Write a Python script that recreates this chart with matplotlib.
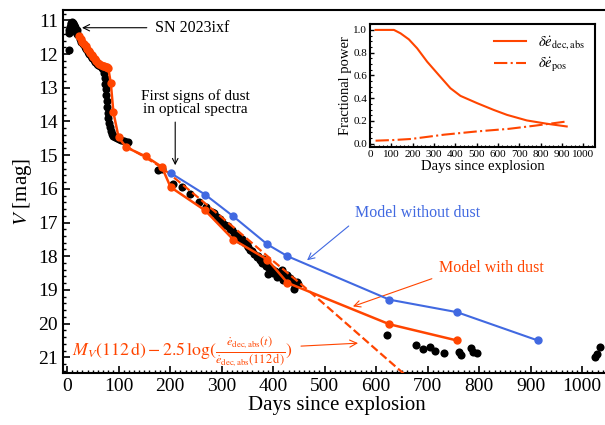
import matplotlib
matplotlib.use("Agg")
import matplotlib.pyplot as plt
from matplotlib.ticker import MultipleLocator

plt.rcParams['font.family'] = ['Liberation Serif', 'DejaVu Serif']
plt.rcParams['mathtext.fontset'] = 'stix'

# ---------------- data ----------------
obs_days = [3, 3.5, 4.5, 6, 7, 8, 9, 10, 11, 12, 13, 14, 15, 16, 17, 18, 19, 20, 22,
            25, 28, 31, 34, 37, 40, 43, 46, 49, 52, 55, 58, 61, 64, 67, 70,
            72, 73, 74, 75, 76, 77, 78, 79, 80, 82, 84, 86, 88, 90, 93, 97, 101, 105,
            110, 115, 119,
            177, 185, 206, 223, 239, 257, 270, 281, 286, 291, 296, 301, 307, 312, 316,
            320, 325, 329, 333, 336, 340, 345, 349, 352, 355, 359, 363, 368, 371, 375,
            378, 380, 384, 387, 391, 391, 394, 397, 399, 401, 404, 407, 410, 412, 414,
            417, 419, 420, 423, 425, 427, 430, 433, 436, 439, 441, 443, 446, 449,
            622, 678, 692, 705, 714, 732, 761, 764, 784, 789, 795, 1025, 1028, 1034]
obs_mag = [11.88, 11.38, 11.3, 11.2, 11.12, 11.08, 11.06, 11.07, 11.08, 11.1, 11.13, 11.17,
           11.2, 11.25, 11.3, 11.35, 11.28, 11.4, 11.45,
           11.55, 11.63, 11.71, 11.79, 11.86, 11.93, 12.0, 12.06, 12.12, 12.18, 12.24,
           12.3, 12.34, 12.37, 12.41, 12.45,
           12.55, 12.7, 12.88, 13.05, 13.22, 13.4, 13.58, 13.75, 13.9, 14.05, 14.18,
           14.28, 14.36, 14.42, 14.47, 14.5, 14.52, 14.55, 14.58, 14.62, 14.6,
           15.45, 15.42, 15.85, 15.96, 16.14, 16.39, 16.55, 16.69, 16.72, 16.84, 16.9,
           16.98, 17.08, 17.1, 17.2, 17.23, 17.3, 17.38, 17.42, 17.53, 17.5, 17.62,
           17.68, 17.72, 17.83, 17.85, 17.92, 18.02, 18.0, 18.12, 18.2, 18.08, 18.22,
           18.3, 18.32, 18.52, 18.38, 18.37, 18.5, 18.47, 18.45, 18.62, 18.52, 18.6,
           18.48, 18.42, 18.7, 18.62, 18.55, 18.66, 18.57, 18.72, 18.66, 18.7, 18.76,
           18.96, 18.86, 18.78, 18.81,
           20.35, 20.62, 20.74, 20.69, 20.81, 20.86, 20.84, 20.94, 20.71, 20.84, 20.87,
           21.0, 20.9, 20.68]

dust_days = [24, 27, 30, 33, 36, 39, 42, 45, 48, 51, 54, 57, 60, 63, 66, 69, 72, 75, 78,
             80, 85, 90, 100, 115, 153, 184, 201, 268, 323, 389, 428, 626, 757]
dust_mag = [11.47, 11.55, 11.63, 11.7, 11.77, 11.84, 11.9, 11.96, 12.02, 12.08, 12.14,
            12.2, 12.26, 12.3, 12.33, 12.35, 12.37, 12.38, 12.4, 12.42, 12.87, 13.73,
            14.47, 14.77, 15.04, 15.35, 15.95, 16.64, 17.51, 18.1, 18.79, 20.02, 20.5]

nodust_days = [201, 268, 323, 389, 428, 626, 757, 914]
nodust_mag = [15.53, 16.17, 16.82, 17.65, 18.0, 19.29, 19.66, 20.5]

decay_days = [112, 150, 184, 250, 300, 400, 452, 500, 600, 660]
decay_mag = [14.72, 15.05, 15.37, 16.2, 16.84, 18.14, 18.8, 19.43, 20.77, 21.57]

frac_days = [26, 112, 143, 182, 221, 268, 322, 377, 424, 502, 579, 642, 735, 829, 922]
frac_decabs = [1.0, 1.0, 0.97, 0.917, 0.838, 0.72, 0.604, 0.487, 0.42, 0.356, 0.297,
               0.253, 0.204, 0.175, 0.151]
pos_days = [26, 112, 192, 348, 504, 650, 769, 922]
frac_pos = [0.026, 0.032, 0.041, 0.079, 0.108, 0.13, 0.157, 0.195]

ORANGE = '#FF4500'
BLUE = '#4169E1'

fig = plt.figure(figsize=(6.05, 4.25), dpi=100)
ax = fig.add_axes([0.104, 0.122, 0.905, 0.854])

ax.scatter(obs_days, obs_mag, s=34, color='black', zorder=2, linewidths=0)
ax.plot(decay_days, decay_mag, ls='--', color=ORANGE, lw=1.6, zorder=3)
ax.plot(dust_days, dust_mag, '-o', color=ORANGE, lw=1.8, ms=5, zorder=4)
ax.plot(nodust_days, nodust_mag, '-o', color=BLUE, lw=1.5, ms=5, zorder=4)

ax.set_xlim(-8, 1055)
ax.set_ylim(21.47, 10.7)
ax.xaxis.set_major_locator(MultipleLocator(100))
ax.xaxis.set_minor_locator(MultipleLocator(10))
ax.yaxis.set_major_locator(MultipleLocator(1))
ax.yaxis.set_minor_locator(MultipleLocator(0.2))
ax.tick_params(which='both', direction='in', top=False, right=False, labelsize=14)
ax.tick_params(which='major', length=5, width=1.2)
ax.tick_params(which='minor', length=2.5, width=1.0)
for sp in ax.spines.values():
    sp.set_linewidth(1.5)
ax.set_xlabel('Days since explosion', fontsize=15, labelpad=1)
ax.set_ylabel(r'$V$ [mag]', fontsize=15, labelpad=3)

ap = dict(arrowstyle='->', color='black', lw=0.8, shrinkA=0, shrinkB=0)
ax.annotate('SN 2023ixf', xy=(29, 11.22), xytext=(171, 11.22), fontsize=11.5,
            ha='left', va='center', arrowprops=dict(ap, shrinkA=4))
ax.text(250, 13.45, 'First signs of dust\nin optical spectra', fontsize=11,
        ha='center', va='center', linespacing=1.0)
ax.annotate('', xy=(210, 15.3), xytext=(210, 14.02), arrowprops=ap)
ax.annotate('Model without dust', xy=(466, 18.12), xytext=(680, 16.72), fontsize=11.5,
            color=BLUE, ha='center', va='center',
            arrowprops=dict(arrowstyle='->', color=BLUE, lw=0.8, shrinkA=3, shrinkB=0,
                            relpos=(0.0, 0.0)))
ax.annotate('Model with dust', xy=(555, 19.49), xytext=(823, 18.36), fontsize=11.5,
            color=ORANGE, ha='center', va='center',
            arrowprops=dict(arrowstyle='->', color=ORANGE, lw=0.8, shrinkA=3, shrinkB=0,
                            relpos=(0.0, 0.0)))
ax.annotate(r'$M_V(112\,\mathrm{d}) - 2.5\,\log(\frac{\dot{e}_{\rm dec,abs}(t)}{\dot{e}_{\rm dec,abs}(112\,\mathrm{d})})$',
            xy=(565, 20.58), xytext=(10, 20.85), fontsize=12.8, color=ORANGE,
            ha='left', va='center',
            arrowprops=dict(arrowstyle='->', color=ORANGE, lw=0.8, shrinkA=4, shrinkB=0))

# ---------------- inset ----------------
ins = fig.add_axes([0.6116, 0.654, 0.372, 0.289])
ins.plot(frac_days, frac_decabs, '-', color=ORANGE, lw=1.5,
         label=r'$\delta\dot{e}_{\rm dec,abs}$')
ins.plot(pos_days, frac_pos, '-.', color=ORANGE, lw=1.5,
         label=r'$\delta\dot{e}_{\rm pos}$')
ins.set_xlim(0, 1055)
ins.set_ylim(-0.03, 1.05)
ins.xaxis.set_major_locator(MultipleLocator(100))
ins.xaxis.set_minor_locator(MultipleLocator(20))
ins.yaxis.set_major_locator(MultipleLocator(0.2))
ins.yaxis.set_minor_locator(MultipleLocator(0.05))
ins.tick_params(which='both', direction='in', top=False, right=False, labelsize=8, pad=2)
ins.tick_params(which='major', length=3, width=1.0)
ins.tick_params(which='minor', length=1.5, width=0.8)
for sp in ins.spines.values():
    sp.set_linewidth(1.5)
ins.set_xlabel('Days since explosion', fontsize=10.5, labelpad=1)
ins.set_ylabel('Fractional power', fontsize=10.5, labelpad=1)
ins.legend(loc='upper right', frameon=False, fontsize=10.5, handlelength=2.2,
           borderaxespad=0.3, labelspacing=0.3)

fig.savefig('out.png', dpi=100)
